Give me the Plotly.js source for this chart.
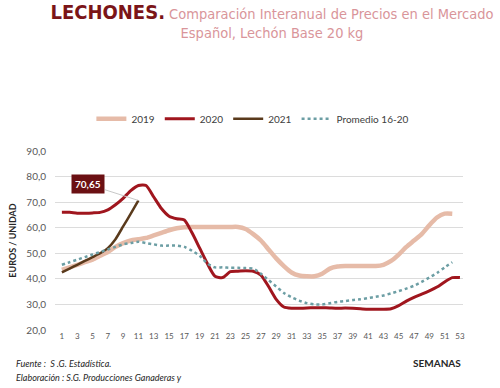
<!DOCTYPE html>
<html><head><meta charset="utf-8">
<script src="https://cdn.plot.ly/plotly-3.0.1.min.js"></script>
<style>html,body{margin:0;padding:0;background:#fff}#c{width:500px;height:388px}</style>
</head><body><div id="c"></div>
<script>
const weeks = Array.from({length:53},(_,i)=>i+1);
const s2019 = [43.5,44.5,45.5,46.5,47.5,49,50.5,52.5,54,55,55.5,56,57,58,59,59.8,60.2,60.3,60.3,60.3,60.3,60.3,60.3,60.3,59.5,57.5,55,51.5,48,45,42.5,41.3,41,41,42,44,44.8,45,45,45,45,45,45.5,47,49.5,52.5,55,57.5,61,64,65.5,65.5];
const s2020 = [66,66,65.7,65.7,65.8,66,67,69,71.5,74.5,76.5,76.5,72,67.5,64.5,63.5,63,58,52,46,41,40.5,42.8,43,43.2,43,41.5,37,32,29,28.5,28.5,28.6,28.7,28.7,28.6,28.5,28.6,28.5,28.3,28.1,28.1,28.1,28.3,29.5,31.3,32.8,34,35.3,36.8,38.8,40.5,40.5];
const s2021 = [42.5,44,45.5,47,48.5,50,52,55.5,60.5,65.5,70.65];
const sProm = [45.5,46.5,47.5,48.5,49.5,50.5,51.5,52.5,53.5,54,54.5,54,53.5,53,53,53,52.5,51,49,46,44.5,44.5,44.3,44.3,44.2,44,42,39.5,37,34.5,32.8,31.5,30.5,30,30,30.5,31,31.3,31.7,32,32.5,33,33.5,34.3,35.2,36.2,37.3,38.8,40.5,42.3,44.5,46.5];
const names = ['2019','2020','2021','Promedio 16-20'];
const xticks = [1,3,5,7,9,11,13,15,17,19,21,23,25,27,29,31,33,35,37,39,41,43,45,47,49,51,53];
const yticks = [20,30,40,50,60,70,80,90];

const traces = [
 {x:weeks.slice(0,s2019.length), y:s2019, name:names[0], mode:'lines', line:{color:'#e6bba8', width:4.5, shape:'spline', smoothing:0.6}},
 {x:weeks.slice(0,s2020.length), y:s2020, name:names[1], mode:'lines', line:{color:'#a0161e', width:3, shape:'spline', smoothing:0.6}},
 {x:weeks.slice(0,s2021.length), y:s2021, name:names[2], mode:'lines', line:{color:'#5a3a1c', width:2.5, shape:'spline', smoothing:0.6}},
 {x:weeks.slice(0,sProm.length), y:sProm, name:names[3], mode:'lines', line:{color:'#6c9ea4', width:2.5, dash:'dot', shape:'spline', smoothing:0.6}}
];
const lastIdx = s2021.length-1;
const layout = {
 width:500, height:388,
 margin:{l:55, r:37, t:151, b:58},
 paper_bgcolor:'#fff', plot_bgcolor:'#fff',
 separators:',.',
 showlegend:true,
 font:{family:'Lato, "Open Sans", sans-serif', color:'#595959'},
 title:{
  text:'<span style="color:#7b1518;font-size:20px"><b>LECHONES.</b></span> Comparación Interanual de Precios en el Mercado<br>Español, Lechón Base 20 kg',
  font:{family:'"DejaVu Sans Condensed", "Liberation Sans Narrow", sans-serif', size:14.5, color:'#d9959a'},
  x:0.544, xanchor:'center', xref:'container', y:0.95, yanchor:'top', yref:'container'
 },
 legend:{orientation:'h', x:0.485, xanchor:'center', y:1.18, yanchor:'middle', font:{size:10, color:'#404040'}, bgcolor:'rgba(0,0,0,0)', itemwidth:30, tracegroupgap:0},
 xaxis:{range:[0.1,53.4], tickvals:xticks, ticktext:xticks.map(String), showgrid:false, zeroline:false, showline:false, ticks:'', tickfont:{size:8, color:'#595959'}, fixedrange:true},
 yaxis:{range:[20,90], tickvals:yticks, tickformat:'.1f', showgrid:true, gridcolor:'#dcdcdc', gridwidth:1, zeroline:false, showline:false, ticks:'', tickfont:{size:10, color:'#595959'}, ticklabelstandoff:8,
   title:{text:'<b>EUROS / UNIDAD</b>', font:{size:9, color:'#262626'}, standoff:8}},
 annotations:[
  {x:weeks[lastIdx], y:s2021[lastIdx], xref:'x', yref:'y', text:'<b>'+s2021[lastIdx].toFixed(2).replace('.',',')+'</b>', showarrow:true, arrowhead:0, arrowwidth:1, arrowcolor:'#c8c8c8', ax:-50, ay:-16, bgcolor:'#6b1013', font:{color:'#fff', size:10}, borderpad:3},
  {x:1.0, y:-0.185, xref:'paper', yref:'paper', xanchor:'right', yanchor:'middle', text:'<b>SEMANAS</b>', showarrow:false, font:{size:10, color:'#262626'}},
  {x:-0.1, y:-0.185, xref:'paper', yref:'paper', xanchor:'left', yanchor:'middle', text:'<i>Fuente :  S .G. Estadística.</i>', showarrow:false, font:{size:9, color:'#262626'}},
  {x:-0.1, y:-0.263, xref:'paper', yref:'paper', xanchor:'left', yanchor:'middle', text:'<i>Elaboración : S.G. Producciones Ganaderas y</i>', showarrow:false, font:{size:9, color:'#262626'}}
 ]
};
Plotly.newPlot('c', traces, layout, {displayModeBar:false, staticPlot:true});
</script></body></html>
